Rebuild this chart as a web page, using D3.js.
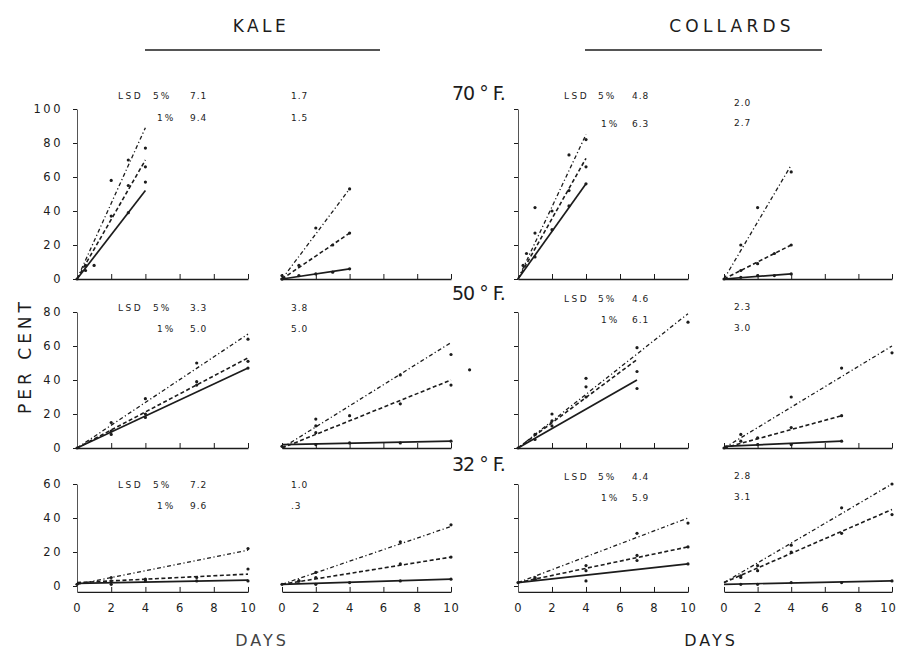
<!DOCTYPE html>
<html><head><meta charset="utf-8">
<script src="https://cdn.jsdelivr.net/npm/d3@7"></script>
<style>body{margin:0;background:#fff}svg{display:block}</style>
</head><body><svg id="c" width="897" height="650"></svg>
<script>
// ---------- data ----------
const crops = ["KALE", "COLLARDS"];
const temps = ["70 ° F.", "50 ° F.", "32 ° F."];
const xTicks = [0, 2, 4, 6, 8, 10];
const yTicks70 = [0, 20, 40, 60, 80, 100];
const yTicks50 = [0, 20, 40, 60, 80];
const yTicks32 = [0, 20, 40, 60];
const seriesNames = ["A", "B", "C"]; // solid, dashed, dash-dot

const lsdKale5 = ["7.1", "3.3", "7.2"];
const lsdKale1 = ["9.4", "5.0", "9.6"];
const lsdKaleR5 = ["1.7", "3.8", "1.0"];
const lsdKaleR1 = ["1.5", "5.0", ".3"];
const lsdColl5 = ["4.8", "4.6", "4.4"];
const lsdColl1 = ["6.3", "6.1", "5.9"];
const lsdCollR5 = ["2.0", "2.3", "2.8"];
const lsdCollR1 = ["2.7", "3.0", "3.1"];

// fitted lines [A, B, C]  (x = days, y = per cent)
const kale70L = [[[0,0],[4,52]], [[0,0],[4,70]], [[0,0],[4,89]]];
const kale70R = [[[0,0],[4,6]], [[0,0],[4,27]], [[0,0],[4,53]]];
const coll70L = [[[0,0],[4,56]], [[0,0],[4,71]], [[0,0],[4,85]]];
const coll70R = [[[0,0],[4,3]], [[0,0],[4,20]], [[0,0],[4,67]]];
const kale50L = [[[0,0],[10,47]], [[0,0],[10,53]], [[0,0],[10,67]]];
const kale50R = [[[0,2],[10,4]], [[0,0],[10,40]], [[0,0],[10,62]]];
const coll50L = [[[0,0],[7,40]], [[0,0],[7,52]], [[0,0],[10,79]]];
const coll50R = [[[0,1],[7,4]], [[0,0],[7,19]], [[0,0],[10,60]]];
const kale32L = [[[0,1.5],[10,3.5]], [[0,2],[10,7]], [[0,1],[10,21]]];
const kale32R = [[[0,1],[10,4]], [[0,1],[10,17]], [[0,1],[10,35]]];
const coll32L = [[[0,2],[10,13]], [[0,2],[10,23]], [[0,2],[10,40]]];
const coll32R = [[[0,1],[10,3]], [[0,2],[10,45]], [[0,2],[10,60]]];

// observed points [A, B, C]
const kale70LDots = [[[0,0],[1,8],[3,39],[4,57]], [[0.5,5],[2,37],[3,55],[4,66]], [[0.5,8],[2,58],[3,70],[4,77]]];
const kale70RDots = [[[0,0],[1,2],[2,3],[3,4],[4,6]], [[0,0],[1,8],[3,20],[4,27]], [[0,2],[2,30],[4,53]]];
const coll70LDots = [[[1,13],[2,29],[3,43],[4,56]], [[0.5,15],[1,27],[2,40],[3,52],[4,66]], [[0.3,8],[1,42],[3,73],[4,82]]];
const coll70RDots = [[[0,0],[1,1],[2,2],[3,2],[4,3]], [[1,5],[2,9],[3,15],[4,20]], [[1,20],[2,42],[4,63]]];
const kale50LDots = [[[0,0],[2,8],[4,18],[7,37],[10,47]], [[2,10],[4,20],[7,39],[10,51]], [[2,15],[4,29],[7,50],[10,64]]];
const kale50RDots = [[[0,1],[2,2],[4,3],[7,3],[10,4]], [[2,9],[4,19],[7,26],[10,37]], [[2,13],[2,17],[7,43],[10,55],[11.1,46]]];
const coll50LDots = [[[0,0],[1,5],[2,13],[4,30],[7,35]], [[1,8],[2,16],[4,36],[7,45]], [[2,20],[4,41],[7,59],[10,74]]];
const coll50RDots = [[[0,0],[2,2],[4,2],[7,4]], [[1,4],[2,6],[4,12],[7,19]], [[1,8],[4,30],[7,47],[10,56]]];
const kale32LDots = [[[0,1],[2,1],[4,3],[7,3],[10,3]], [[2,3],[4,4],[7,5],[10,10]], [[2,5],[10,22]]];
const kale32RDots = [[[0,1],[2,1],[4,2],[7,3],[10,4]], [[1,3],[2,5],[7,13],[10,17]], [[1,3],[2,8],[7,26],[10,36]]];
const coll32LDots = [[[0,2],[1,4],[4,3],[7,15],[10,13]], [[1,5],[4,9],[7,18],[10,23]], [[1,4],[4,12],[7,31],[10,37]]];
const coll32RDots = [[[1,1],[2,1],[4,2],[7,2],[10,3]], [[1,5],[2,9],[4,20],[7,31],[10,42]], [[1,6],[2,12],[4,24],[7,46],[10,60]]];

// ---------- layout ----------
const lineData = [[kale70L, kale70R, coll70L, coll70R], [kale50L, kale50R, coll50L, coll50R], [kale32L, kale32R, coll32L, coll32R]];
const dotData = [[kale70LDots, kale70RDots, coll70LDots, coll70RDots], [kale50LDots, kale50RDots, coll50LDots, coll50RDots], [kale32LDots, kale32RDots, coll32LDots, coll32RDots]];
const yTicksByRow = [yTicks70, yTicks50, yTicks32];
const rowMax = [100, 80, 60];
const rowMin = [0, 0, -3.5];
const rowBase = [279, 448, 586];
const pxPer = 1.7;
const panelX = [[77, 248], [282, 451], [518, 688], [724, 892]];
const seriesStyle = [{dash: null, w: 1.7}, {dash: "4,2.5", w: 1.6}, {dash: "4,2.5,1.2,2.5", w: 1.3}];
const FONT = "DejaVu Sans";
const ink = "#1c1c1c";

const svg = d3.select("#c");
svg.append("rect").attr("width", 897).attr("height", 650).attr("fill", "#fff");

function txt(x, y, s, size, opts = {}) {
  return svg.append("text").attr("x", x).attr("y", y).text(s)
    .attr("font-family", FONT).attr("font-size", size).attr("fill", ink)
    .attr("letter-spacing", opts.ls || 0)
    .attr("text-anchor", opts.anchor || "start");
}

// headings
txt(261, 32, crops[0], 17, {ls: 3.5, anchor: "middle"});
txt(732, 32, crops[1], 17, {ls: 4.2, anchor: "middle"});
svg.append("line").attr("x1", 145).attr("x2", 380).attr("y1", 50).attr("y2", 50).attr("stroke", ink).attr("stroke-width", 1.3);
svg.append("line").attr("x1", 585).attr("x2", 822).attr("y1", 50).attr("y2", 50).attr("stroke", ink).attr("stroke-width", 1.3);

const tempY = [100, 300, 471];
temps.forEach((t, i) => txt(452, tempY[i], t, 19, {ls: -1}));

svg.append("text").attr("transform", "translate(31,356) rotate(-90)")
  .attr("text-anchor", "middle").attr("font-family", FONT).attr("font-size", 17)
  .attr("letter-spacing", 4).attr("fill", ink).text("PER CENT");

txt(262, 646, "DAYS", 16, {ls: 3, anchor: "middle"}).attr("fill", "#444");
txt(711, 646, "DAYS", 16, {ls: 3, anchor: "middle"});

// LSD annotations
const lsdRowY = [[99, 121], [311, 332], [488, 509]];
const lsdCollY = [[99, 127], [302, 323], [480, 501]];
const lsdCollRY = [[106, 126], [310, 331], [479, 500]];
for (let r = 0; r < 3; r++) {
  const [a, b] = lsdRowY[r];
  txt(118, a, "LSD", 9, {ls: 2.5}); txt(153, a, "5%", 9, {ls: 2}); txt(190, a, lsdKale5[r], 9, {ls: 1});
  txt(157, b, "1%", 9, {ls: 2}); txt(190, b, lsdKale1[r], 9, {ls: 1});
  txt(291, a, lsdKaleR5[r], 9, {ls: 1}); txt(291, b, lsdKaleR1[r], 9, {ls: 1});
  const [c, d] = lsdCollY[r];
  txt(564, c, "LSD", 9, {ls: 2.5}); txt(598, c, "5%", 9, {ls: 2}); txt(632, c, lsdColl5[r], 9, {ls: 1});
  txt(601, d, "1%", 9, {ls: 2}); txt(632, d, lsdColl1[r], 9, {ls: 1});
  const [e, f] = lsdCollRY[r];
  txt(734, e, lsdCollR5[r], 9, {ls: 1}); txt(734, f, lsdCollR1[r], 9, {ls: 1});
}

// panels
for (let r = 0; r < 3; r++) {
  for (let p = 0; p < 4; p++) {
    const x = d3.scaleLinear().domain([0, 10]).range(panelX[p]);
    const y = d3.scaleLinear().domain([0, rowMax[r]]).range([rowBase[r], rowBase[r] - pxPer * rowMax[r]]);
    const g = svg.append("g");

    // x axis
    const xa = d3.axisBottom(x).tickValues(xTicks).tickSize(-5).tickSizeOuter(0).tickPadding(12)
      .tickFormat(r === 2 ? d3.format("d") : () => "");
    const gx = g.append("g").attr("transform", `translate(0,${y(rowMin[r])})`).call(xa);
    gx.select(".domain").attr("stroke", ink).attr("stroke-width", 1.3);
    gx.selectAll(".tick line").attr("stroke", ink).attr("stroke-width", 1);
    gx.selectAll("text").attr("font-family", FONT).attr("font-size", 11.5).attr("fill", ink).attr("letter-spacing", 1);
    if (p === 3) gx.selectAll("text").filter(d => d === 10).attr("dx", -4);

    // y axis on left panels
    if (p === 0 || p === 2) {
      const ya = d3.axisLeft(y.copy().domain([rowMin[r], rowMax[r]]).range([y(rowMin[r]), y(rowMax[r])]))
        .tickValues(yTicksByRow[r]).tickSize(4).tickSizeOuter(0).tickPadding(10)
        .tickFormat(p === 0 ? d3.format("d") : () => "");
      const gy = g.append("g").attr("transform", `translate(${x(0)},0)`).call(ya);
      gy.select(".domain").attr("stroke", "#555").attr("stroke-width", 1);
      gy.selectAll(".tick line").attr("stroke", ink);
      gy.selectAll("text").attr("font-family", FONT).attr("font-size", 11.5).attr("fill", ink).attr("letter-spacing", 2.5);
    }

    const line = d3.line().x(d => x(d[0])).y(d => y(d[1]));
    lineData[r][p].forEach((pts, s) => {
      g.append("path").datum(pts).attr("d", line).attr("fill", "none")
        .attr("stroke", ink).attr("stroke-width", seriesStyle[s].w)
        .attr("stroke-dasharray", seriesStyle[s].dash);
    });
    dotData[r][p].forEach((pts, s) => {
      g.selectAll(null).data(pts).enter().append("circle")
        .attr("cx", d => x(d[0])).attr("cy", d => y(d[1])).attr("r", 1.6).attr("fill", ink);
    });
  }
}
</script></body></html>
